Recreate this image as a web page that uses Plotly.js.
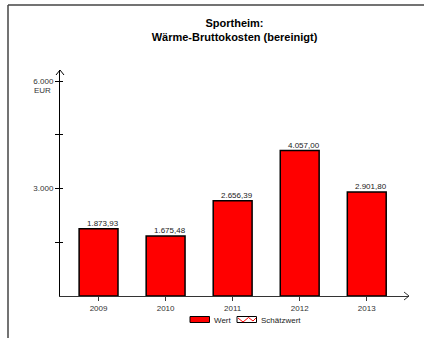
<!DOCTYPE html>
<html>
<head>
<meta charset="utf-8">
<script src="https://cdn.plot.ly/plotly-3.0.1.min.js"></script>
<style>html,body{margin:0;padding:0;background:#fff;}#chart{width:424px;height:338px;}</style>
</head>
<body>
<div id="chart"></div>
<script>
const years = ['2009', '2010', '2011', '2012', '2013'];
const values = [1873.93, 1675.48, 2656.39, 4057.00, 2901.80];
const yTickVals = [1500, 3000, 4500, 6000];
const yTickText = ['', '3.000', '', '6.000'];
const titleLines = ['Sportheim:', 'Wärme-Bruttokosten (bereinigt)'];
const legendNames = ['Wert', 'Schätzwert'];
const unitLabel = 'EUR';

function fmtDE(v) {
  const parts = v.toFixed(2).split('.');
  const intPart = parts[0].replace(/\B(?=(\d{3})+(?!\d))/g, '.');
  return intPart + ',' + parts[1];
}

const W = 424, H = 338;
const M = {l: 60, r: 15, t: 70, b: 42};
const PW = W - M.l - M.r, PH = H - M.t - M.b;
const px = x => (x - M.l) / PW;
const py = y => (H - M.b - y) / PH;

const FONT = 'Liberation Sans, Arial, sans-serif';

const trace = {
  type: 'bar',
  x: years,
  y: values,
  marker: {color: '#ff0000', line: {color: '#000000', width: 1.5}},
  showlegend: false,
  hoverinfo: 'none'
};

// category axis: annotation x is the category index
const annotations = years.map((yr, i) => ({
  x: i, y: values[i], xref: 'x', yref: 'y',
  text: fmtDE(values[i]), showarrow: false,
  yanchor: 'bottom', xanchor: 'center', xshift: 4, yshift: -1,
  font: {family: FONT, size: 8, color: '#222'}
}));

annotations.push({
  x: 0, xref: 'paper', y: 6000, yref: 'y', xanchor: 'right', yanchor: 'middle',
  xshift: -7, yshift: -9, text: unitLabel, showarrow: false,
  font: {family: FONT, size: 8, color: '#333'}
});
annotations.push({
  x: px(212), xref: 'paper', y: py(320), yref: 'paper', xanchor: 'left', yanchor: 'middle',
  text: legendNames[0], showarrow: false, font: {family: FONT, size: 8, color: '#222'}
});
annotations.push({
  x: px(258.5), xref: 'paper', y: py(320), yref: 'paper', xanchor: 'left', yanchor: 'middle',
  text: legendNames[1], showarrow: false, font: {family: FONT, size: 8, color: '#222'}
});

function pathP(pts) {
  return 'M' + pts.map(p => px(p[0]) + ',' + py(p[1])).join(' L');
}

const shapes = [
  {type: 'line', xref: 'paper', yref: 'paper', x0: px(8), x1: px(8), y0: py(5), y1: py(338), line: {color: '#444', width: 1.5}},
  {type: 'line', xref: 'paper', yref: 'paper', x0: px(8), x1: px(424), y0: py(5), y1: py(5), line: {color: '#444', width: 1.5}},
  {type: 'path', xref: 'paper', yref: 'paper', path: pathP([[56, 75], [60, 70], [64, 75]]), line: {color: '#000', width: 1}},
  {type: 'path', xref: 'paper', yref: 'paper', path: pathP([[404, 292], [409, 296], [404, 300]]), line: {color: '#333', width: 1}},
  {type: 'rect', xref: 'paper', yref: 'paper', x0: px(190), x1: px(209.5), y0: py(316.5), y1: py(322.5), fillcolor: '#ff0000', line: {color: '#000', width: 1}},
  {type: 'rect', xref: 'paper', yref: 'paper', x0: px(237), x1: px(256.5), y0: py(316.5), y1: py(322.5), fillcolor: '#ffffff', line: {color: '#000', width: 1}},
  {type: 'path', xref: 'paper', yref: 'paper', path: pathP([[238, 318], [243, 322], [248.5, 317.5], [253, 321], [256, 318]]), line: {color: '#ff0000', width: 1}}
];

const layout = {
  width: W, height: H,
  margin: M,
  paper_bgcolor: '#fff', plot_bgcolor: '#fff',
  font: {family: FONT, size: 8, color: '#333'},
  title: {
    text: '<b>' + titleLines.join('<br>') + '</b>',
    font: {family: FONT, size: 11, color: '#000'},
    x: 0.5, xref: 'paper', xanchor: 'center',
    y: 1 - 27 / H, yref: 'container', yanchor: 'top'
  },
  bargap: 0.42,
  showlegend: false,
  xaxis: {
    type: 'category',
    range: [-0.575, 4.63],
    showline: true, linecolor: '#333', linewidth: 1,
    ticks: 'outside', ticklen: 4, tickcolor: '#333', tickwidth: 1,
    showgrid: false, zeroline: false,
    tickfont: {family: FONT, size: 8, color: '#333'}
  },
  yaxis: {
    range: [0, 6307],
    showline: true, linecolor: '#000', linewidth: 1,
    ticks: 'outside', ticklen: 4, tickcolor: '#000', tickwidth: 1,
    tickvals: yTickVals, ticktext: yTickText,
    showgrid: false, zeroline: false,
    tickfont: {family: FONT, size: 8, color: '#333'}
  },
  yaxis2: {
    overlaying: 'y', side: 'left', range: [0, 6307],
    showline: false, ticks: 'inside', ticklen: 3, tickcolor: '#000', tickwidth: 1,
    tickvals: yTickVals, showticklabels: false, showgrid: false, zeroline: false
  },
  annotations: annotations,
  shapes: shapes
};

const dummy = {type: 'scatter', x: [], y: [], yaxis: 'y2', showlegend: false, hoverinfo: 'none'};

Plotly.newPlot('chart', [trace, dummy], layout, {staticPlot: true, displayModeBar: false});
</script>
</body>
</html>
